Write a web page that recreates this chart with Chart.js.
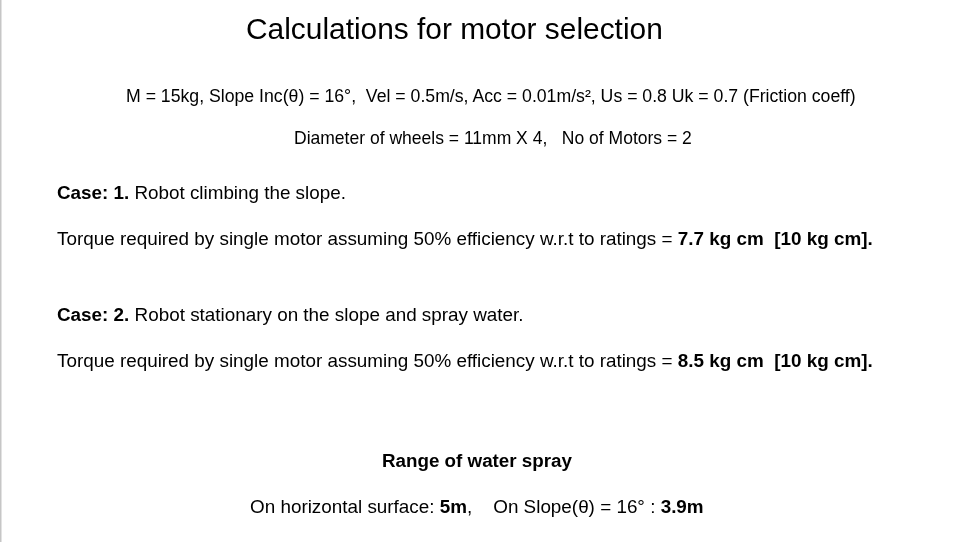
<!DOCTYPE html>
<html lang="en">
<head>
    <meta charset="UTF-8">
    <title>Calculations for motor selection</title>
    <script src="https://cdn.jsdelivr.net/npm/chart.js"></script>
    <style>
        html, body { margin: 0; padding: 0; background: #fff; }
        #page {
            position: relative;
            width: 972px;
            height: 542px;
            overflow: hidden;
            font-family: "Liberation Sans", Arial, sans-serif;
            color: #000;
        }
        #bg { position: absolute; left: 0; top: 0; }
        .line {
            position: absolute;
            white-space: pre;
            line-height: 1;
        }
        .line b { font-weight: bold; }
    </style>
</head>
<body>
<div id="page">
    <canvas id="bg" width="972" height="542"></canvas>
</div>

<script>
    // Slide text, one entry per line. Pieces marked b are bold.
    const titleText = [['Calculations for motor selection']];
    const paramsText = [['M = 15kg, Slope Inc(\u03b8) = 16\u00b0,  Vel = 0.5m/s, Acc = 0.01m/s\u00b2, Us = 0.8 Uk = 0.7 (Friction coeff)']];
    const wheelsText = [['Diameter of wheels = 11mm X 4,   No of Motors = 2']];
    const case1Text = [['Case: 1.', 'b'], [' Robot climbing the slope.']];
    const torque1Text = [['Torque required by single motor assuming 50% efficiency w.r.t to ratings = '], ['7.7 kg cm  [10 kg cm].', 'b']];
    const case2Text = [['Case: 2.', 'b'], [' Robot stationary on the slope and spray water.']];
    const torque2Text = [['Torque required by single motor assuming 50% efficiency w.r.t to ratings = '], ['8.5 kg cm  [10 kg cm].', 'b']];
    const rangeText = [['Range of water spray', 'b']];
    const sprayText = [['On horizontal surface: '], ['5m', 'b'], [',    On Slope(\u03b8) = 16\u00b0 : '], ['3.9m', 'b']];

    // layout: left edge, baseline, width of the line as it appears on the slide
    const layout = [
        { text: titleText,   x: 246, base: 39.5, w: 417, size: 30 },
        { text: paramsText,  x: 126, base: 103,  w: 731, size: 16 },
        { text: wheelsText,  x: 294, base: 145,  w: 398, size: 16 },
        { text: case1Text,   x: 57,  base: 200,  w: 289, size: 18 },
        { text: torque1Text, x: 57,  base: 246,  w: 816, size: 18 },
        { text: case2Text,   x: 57,  base: 322,  w: 467, size: 18 },
        { text: torque2Text, x: 57,  base: 368,  w: 816, size: 18 },
        { text: rangeText,   x: 382, base: 468,  w: 190, size: 18 },
        { text: sprayText,   x: 250, base: 513.5, w: 454, size: 18 }
    ];

    const FONT = '"Liberation Sans", Arial, sans-serif';
    const measureCtx = document.createElement('canvas').getContext('2d');

    function lineWidth(pieces, size) {
        let w = 0;
        pieces.forEach(p => {
            measureCtx.font = (p[1] === 'b' ? 'bold ' : '') + size + 'px ' + FONT;
            w += measureCtx.measureText(p[0]).width;
        });
        return w;
    }

    const page = document.getElementById('page');
    layout.forEach(l => {
        // nudge the font size so the line keeps its width on the slide
        const size = l.size * l.w / lineWidth(l.text, l.size);
        const div = document.createElement('div');
        div.className = 'line';
        div.style.fontSize = size.toFixed(2) + 'px';
        div.style.left = l.x + 'px';
        div.style.top = (l.base - size * 0.8465).toFixed(2) + 'px';
        l.text.forEach(p => {
            const span = document.createElement(p[1] === 'b' ? 'b' : 'span');
            span.textContent = p[0];
            div.appendChild(span);
        });
        page.appendChild(div);
    });

    // Background canvas: Chart.js with no visible scales, paints the slide and its left edge
    const slideBackground = {
        id: 'slideBackground',
        beforeDraw(chart) {
            const c = chart.ctx;
            c.save();
            c.fillStyle = '#ffffff';
            c.fillRect(0, 0, chart.width, chart.height);
            c.fillStyle = '#c6c6c6';
            c.fillRect(0, 0, 1.5, chart.height);
            c.restore();
        }
    };

    new Chart(document.getElementById('bg'), {
        type: 'line',
        data: { labels: [], datasets: [] },
        options: {
            responsive: false,
            animation: false,
            events: [],
            plugins: { legend: { display: false }, tooltip: { enabled: false } },
            scales: { x: { display: false }, y: { display: false } }
        },
        plugins: [slideBackground]
    });
</script>
</body>
</html>
